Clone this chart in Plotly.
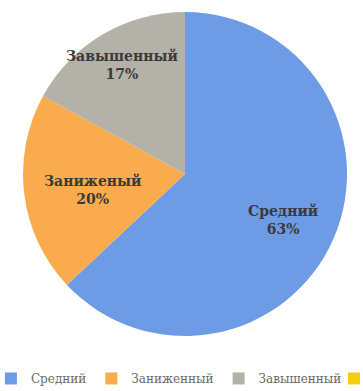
import plotly.graph_objects as go

categories = ["Средний", "Заниженный", "Завышенный"]
extra_category = " "
slice_labels = ["Средний", "Заниженый", "Завышенный"]
percents = ["63%", "20%", "17%"]
values = [63, 20, 17]
colors = ["#6e9be6", "#f9ab4e", "#b4b2a8"]
extra_color = "#f5cd10"

W, H = 363, 391
cx, cy, r = 185, 174, 162
dom = dict(x=[(cx - r) / W, (cx + r) / W], y=[(H - cy - r) / H, (H - cy + r) / H])

fig = go.Figure()
fig.add_trace(go.Pie(
    labels=categories, values=values, textinfo="none",
    sort=False, direction="clockwise", rotation=0,
    marker=dict(colors=colors, line=dict(width=0)),
    domain=dom,
))
# fourth (empty) category, only visible as a legend entry
fig.add_trace(go.Scatter(
    x=[None], y=[None], mode="markers", name=extra_category,
    marker=dict(symbol="square", size=12, color=extra_color),
    legend="legend2", showlegend=True,
))

label_pos = [(283, 220), (93, 190), (122, 65)]
for name, pct, (x, y) in zip(slice_labels, percents, label_pos):
    fig.add_annotation(x=x / W, y=1 - y / H, xref="paper", yref="paper",
                       xanchor="center", yanchor="middle",
                       text=f"<b>{name}<br>{pct}</b>", showarrow=False,
                       font=dict(family="DejaVu Serif", size=14, color="#3a3a3a"))

legend_font = dict(family="DejaVu Serif", size=12, color="#6a6a6a")
fig.update_layout(
    width=W, height=H,
    margin=dict(l=0, r=0, t=0, b=0, autoexpand=False),
    paper_bgcolor="white", plot_bgcolor="white",
    xaxis=dict(visible=False), yaxis=dict(visible=False),
    legend=dict(orientation="h", x=-0.025, xanchor="left", y=-0.005, yanchor="bottom",
                font=legend_font, tracegroupgap=0, bgcolor="rgba(0,0,0,0)"),
    legend2=dict(orientation="h", x=0.92, xanchor="left", y=-0.005, yanchor="bottom",
                 font=legend_font, bgcolor="rgba(0,0,0,0)"),
)
fig.write_html("out.html")
